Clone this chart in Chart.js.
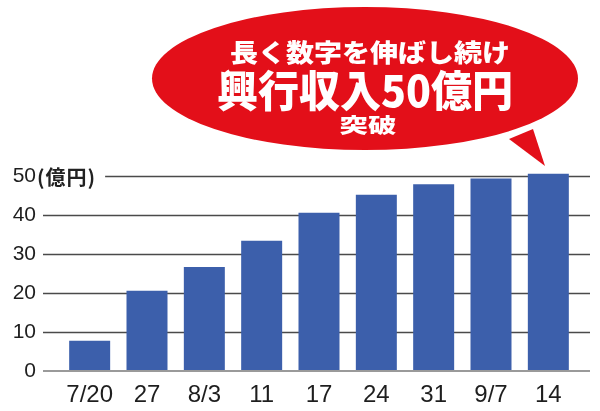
<!DOCTYPE html>
<html lang="ja">
<head>
<meta charset="utf-8">
<script src="https://cdn.jsdelivr.net/npm/chart.js@4/dist/chart.umd.min.js"></script>
<style>
  html, body { margin: 0; padding: 0; background: #fff; }
  #wrap { position: relative; width: 600px; height: 411px; }
  #revChart { position: absolute; left: 0; top: 0; }
  #bubble { position: absolute; left: 0; top: 0; pointer-events: none; }
  #bubble text {
    font-family: "Noto Sans CJK JP", "Noto Sans", sans-serif;
    font-weight: 900;
    fill: #fff;
  }
</style>
</head>
<body>
<div id="wrap">
  <canvas id="revChart" width="600" height="411"></canvas>
  <svg id="bubble" width="600" height="411" viewBox="0 0 600 411">
    <polygon points="509,139 545,166 533,129" fill="#e30f19" />
    <ellipse cx="365" cy="78.5" rx="213" ry="71.5" fill="#e30f19" />
    <text x="370" y="51" text-anchor="middle" dominant-baseline="central"
      font-size="25" textLength="280" lengthAdjust="spacingAndGlyphs">長く数字を伸ばし続け</text>
    <text x="365" y="88" text-anchor="middle" dominant-baseline="central"
      font-size="43" textLength="296" lengthAdjust="spacingAndGlyphs">興行収入50億円</text>
    <text x="368" y="124" text-anchor="middle" dominant-baseline="central"
      font-size="20" textLength="57" lengthAdjust="spacingAndGlyphs">突破</text>
  </svg>
</div>
<script>
// weekly cumulative box office (億円)
const dates = ["7/20", "27", "8/3", "11", "17", "24", "31", "9/7", "14"];
const revenue = [7.8, 20.6, 26.7, 33.5, 40.7, 45.3, 48.0, 49.5, 50.7];
const yTicks = [0, 10, 20, 30, 40, 50];
const unitLabel = "(億円)";

const tickFont = "Liberation Sans, Arial, sans-serif";
const unitFont = "bold 20px 'Noto Sans CJK JP', sans-serif";

// gridlines run past the plot area on both sides, like the print version
const gridPlugin = {
  id: "wideGrid",
  beforeDatasetsDraw(chart) {
    const { ctx } = chart;
    const y = chart.scales.y;
    ctx.save();
    ctx.font = unitFont;
    ctx.letterSpacing = "1px";
    const unitEnd = chart.chartArea.left - 24 + ctx.measureText(unitLabel).width + 9;
    ctx.strokeStyle = "#4a4a4a";
    ctx.lineWidth = 1.3;
    yTicks.forEach((v) => {
      if (v === 0) return;
      const py = Math.round(y.getPixelForValue(v)) + 0.5;
      const x0 = v === 50 ? unitEnd : 43;
      ctx.beginPath();
      ctx.moveTo(x0, py);
      ctx.lineTo(590, py);
      ctx.stroke();
    });
    ctx.restore();
  },
  afterDatasetsDraw(chart) {
    const { ctx } = chart;
    const y = chart.scales.y;
    ctx.save();
    // zero line
    const p0 = y.getPixelForValue(0);
    ctx.strokeStyle = "#9a9a9a";
    ctx.lineWidth = 2;
    ctx.beginPath();
    ctx.moveTo(43, p0);
    ctx.lineTo(590, p0);
    ctx.stroke();
    // unit next to the top tick
    ctx.fillStyle = "#222";
    ctx.font = unitFont;
    ctx.letterSpacing = "1px";
    ctx.textAlign = "left";
    ctx.textBaseline = "middle";
    ctx.fillText(unitLabel, chart.chartArea.left - 24, y.getPixelForValue(50) + 1);
    ctx.restore();
  },
};

new Chart(document.getElementById("revChart"), {
  type: "bar",
  data: {
    labels: dates,
    datasets: [
      {
        label: "興行収入",
        data: revenue,
        backgroundColor: "#3c5fab",
        borderWidth: 0,
        barPercentage: 0.715,
        categoryPercentage: 1,
      },
    ],
  },
  options: {
    responsive: false,
    animation: false,
    layout: {
      padding: { top: 157, right: 23, left: 0, bottom: 0 },
    },
    scales: {
      x: {
        grid: { display: false, drawTicks: false },
        border: { display: false },
        afterFit: (scale) => { scale.height = 40; },
        ticks: {
          padding: 10,
          color: "#1e1e1e",
          font: { family: tickFont, size: 24 },
        },
      },
      y: {
        min: 0,
        max: 55,
        grid: { display: false, drawTicks: false },
        border: { display: false },
        afterFit: (scale) => { scale.width = 61; },
        afterBuildTicks: (scale) => {
          scale.ticks = yTicks.map((v) => ({ value: v }));
        },
        ticks: {
          padding: 25,
          color: "#1e1e1e",
          font: { family: tickFont, size: 21 },
        },
      },
    },
    plugins: {
      legend: { display: false },
      tooltip: { enabled: false },
    },
  },
  plugins: [gridPlugin],
});
</script>
</body>
</html>
